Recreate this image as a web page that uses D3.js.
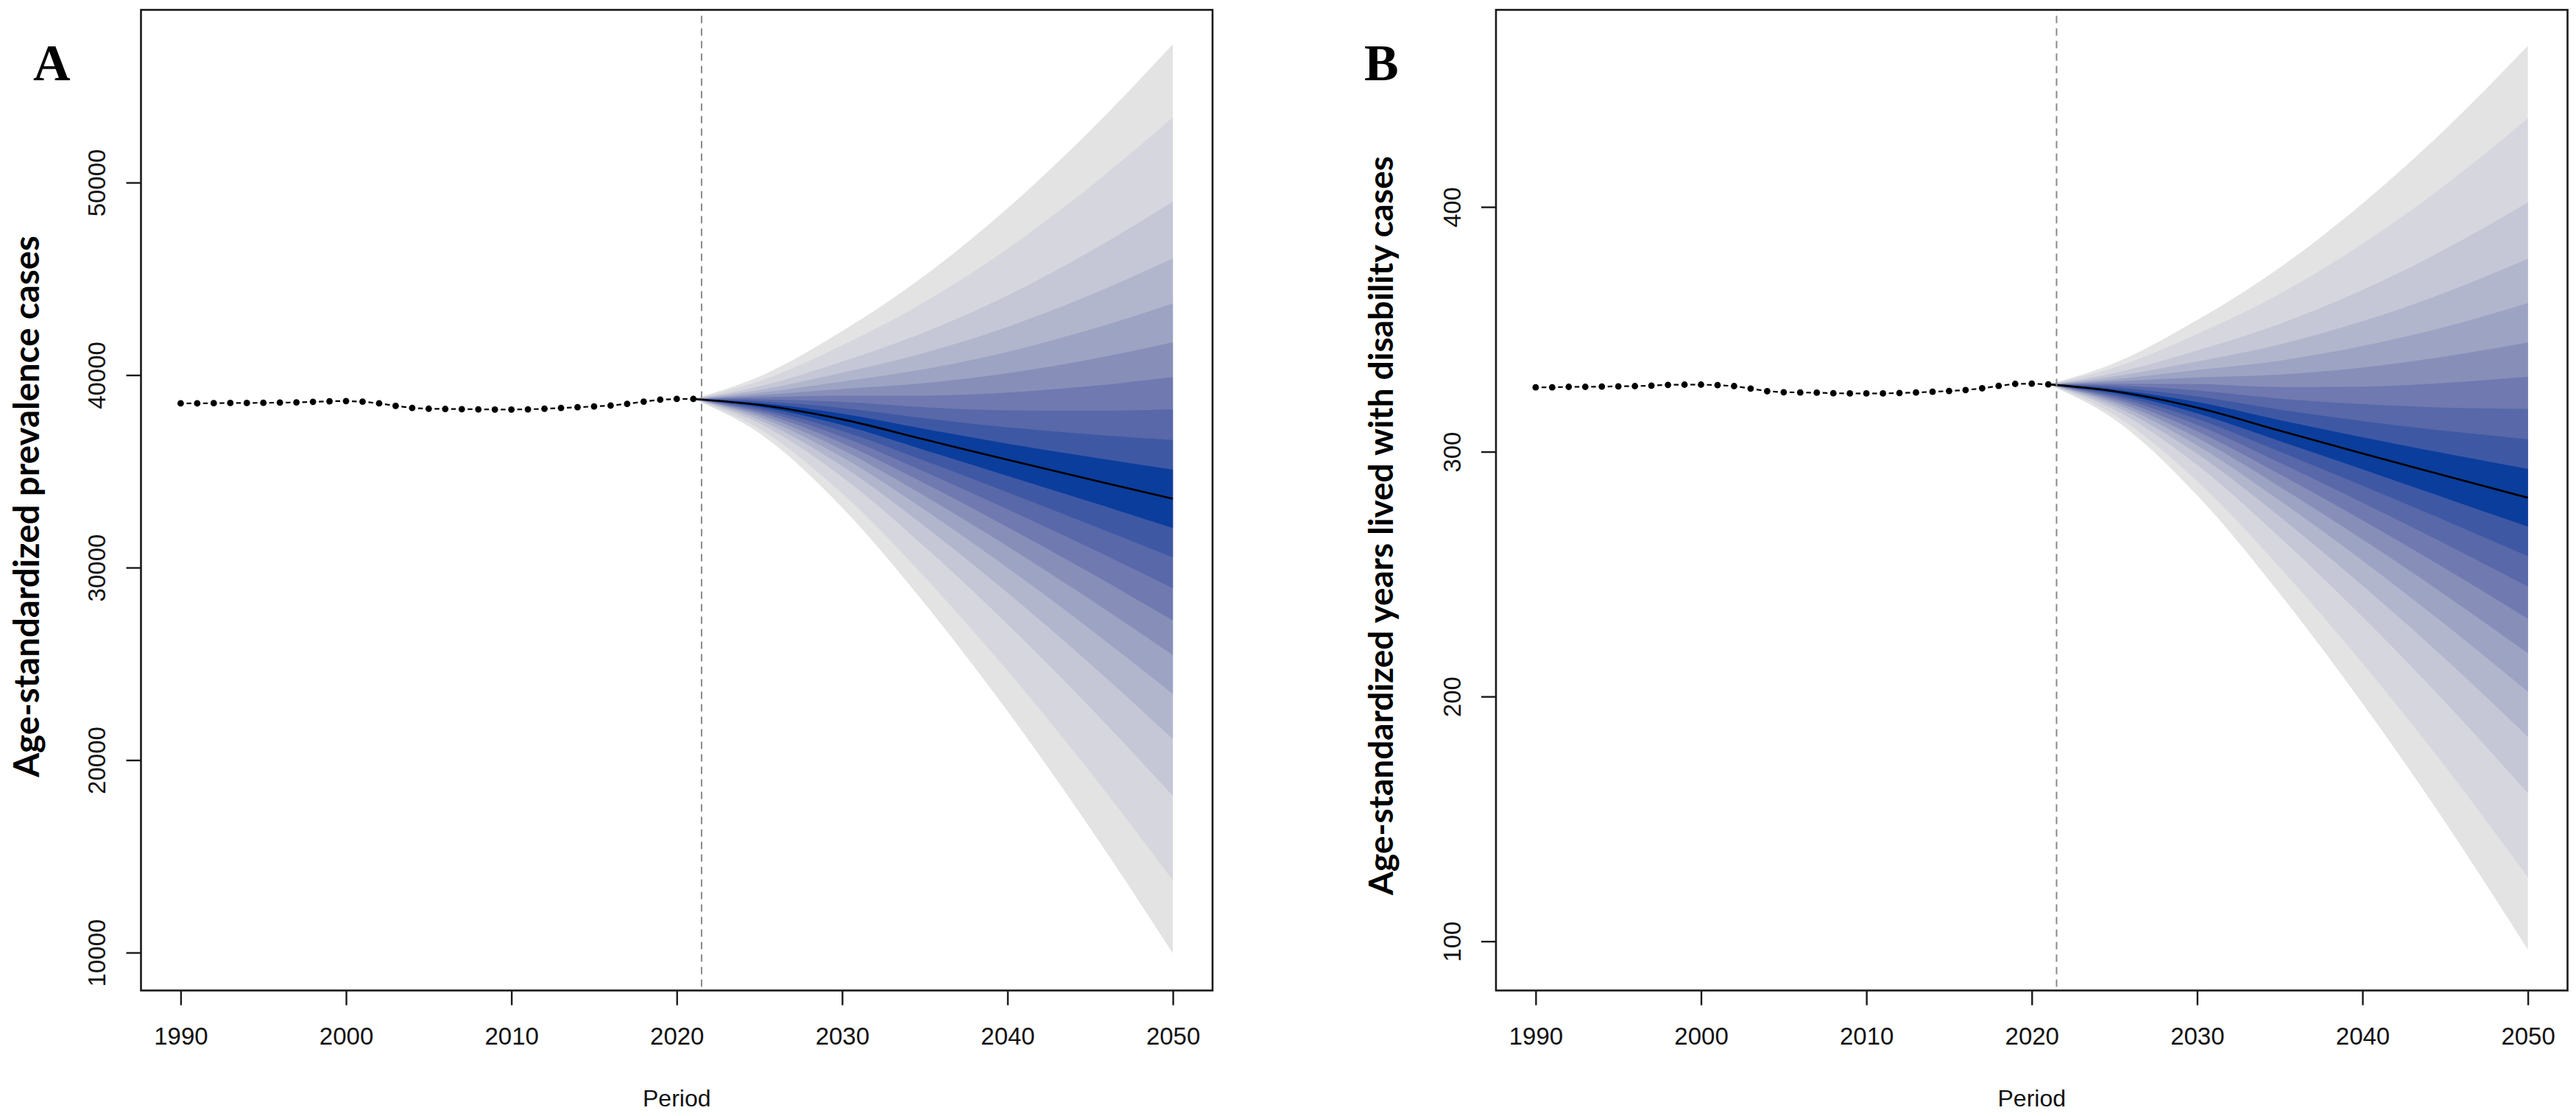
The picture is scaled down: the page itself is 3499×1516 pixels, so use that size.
<!DOCTYPE html>
<html><head><meta charset="utf-8">
<script src="https://cdn.jsdelivr.net/npm/d3@7/dist/d3.min.js"></script>
<style>html,body{margin:0;padding:0;background:#fff;} svg{display:block;}</style>
</head><body>
<svg id="chart" width="3499" height="1516"></svg>
<script>
// ---------- data ----------
const histYears = [1990,1991,1992,1993,1994,1995,1996,1997,1998,1999,2000,2001,2002,2003,2004,2005,
                   2006,2007,2008,2009,2010,2011,2012,2013,2014,2015,2016,2017,2018,2019,2020,2021];
const histA = [38530,38530,38540,38550,38550,38560,38570,38580,38610,38640,38650,38620,38530,38400,38290,38250,
               38240,38230,38220,38210,38210,38220,38250,38290,38330,38370,38420,38500,38620,38720,38760,38760];
const histB = [326.3,326.3,326.5,326.5,326.6,326.7,326.8,327.0,327.3,327.4,327.4,327.2,326.8,325.8,324.7,324.3,
               324.2,324.1,323.9,323.8,323.8,323.8,324.0,324.2,324.5,324.8,325.2,325.9,326.9,327.7,327.8,327.5];

const xTicks = [1990, 2000, 2010, 2020, 2030, 2040, 2050];
const yTicksA = [10000, 20000, 30000, 40000, 50000];
const yTicksB = [100, 200, 300, 400];
const forecastStart = 2021.5;

// projection quantiles (columns) per projection year (rows)
const quantiles = [0.025,0.05,0.1,0.15,0.2,0.25,0.3,0.35,0.4,0.45,0.5,0.55,0.6,0.65,0.7,0.75,0.8,0.85,0.9,0.95,0.975];
const fanYears = [2021, 2025, 2030, 2035, 2040, 2045, 2050];
const fanA = [
  [38760,38760,38760,38760,38760,38760,38760,38760,38760,38760,38760,38760,38760,38760,38760,38760,38760,38760,38760,38760,38760],
  [36976,37213,37486,37671,37817,37943,38056,38160,38260,38355,38450,38545,38640,38740,38844,38957,39083,39229,39414,39687,39924],
  [33118,33854,34704,35277,35732,36123,36474,36799,37108,37406,37700,37994,38292,38601,38926,39277,39668,40123,40696,41546,42282],
  [28124,29494,31075,32142,32989,33716,34369,34974,35548,36103,36650,37197,37752,38326,38931,39584,40311,41158,42225,43806,45176],
  [22539,24638,27059,28693,29992,31105,32105,33032,33912,34762,35600,36438,37288,38168,39095,40095,41208,42507,44141,46562,48661],
  [16466,19377,22735,25002,26802,28346,29733,31019,32239,33418,34580,35742,36921,38141,39427,40814,42358,44158,46425,49783,52694],
  [9957,13753,18132,21086,23434,25447,27256,28932,30523,32060,33575,35090,36627,38218,39894,41703,43716,46064,49018,53397,57193]
];
const fanB = [
  [327.5,327.5,327.5,327.5,327.5,327.5,327.5,327.5,327.5,327.5,327.5,327.5,327.5,327.5,327.5,327.5,327.5,327.5,327.5,327.5,327.5],
  [313.2,315.0,317.2,318.6,319.8,320.7,321.6,322.4,323.2,324.0,324.7,325.4,326.2,327.0,327.8,328.7,329.6,330.8,332.2,334.4,336.2],
  [282.2,288.0,294.6,299.1,302.6,305.7,308.4,311.0,313.4,315.7,318.0,320.3,322.6,325.0,327.6,330.3,333.4,336.9,341.4,348.1,353.8],
  [242.0,252.7,265.0,273.4,280.0,285.7,290.8,295.5,300.0,304.3,308.6,312.9,317.2,321.7,326.4,331.5,337.2,343.8,352.2,364.5,375.2],
  [197.2,213.6,232.5,245.3,255.5,264.2,272.0,279.2,286.1,292.8,299.3,305.9,312.5,319.4,326.6,334.4,343.2,353.3,366.1,385.0,401.4],
  [148.7,171.4,197.7,215.4,229.4,241.5,252.3,262.4,271.9,281.1,290.2,299.3,308.5,318.0,328.1,338.9,351.0,365.0,382.7,409.0,431.7],
  [96.6,126.2,160.5,183.6,201.9,217.7,231.8,244.9,257.3,269.4,281.2,293.0,305.1,317.5,330.6,344.6,360.7,378.8,401.9,436.2,465.8]
];
// outer (gray) -> inner (dark blue)
const fanColors = ["#e3e3e3","#d6d7de","#c5c7d6","#b2b6cd","#9da3c3","#878fb9","#7079b0","#5868a8","#3f58a4","#0b3d9c"];

// ---------- drawing ----------
const svg = d3.select("#chart");

function panel(o) {
  const x = d3.scaleLinear().domain([1987.6, 2052.4]).range([o.left, o.right]);
  const y = d3.scaleLinear().domain(o.yDomain).range([o.bottom, o.top]);
  const g = svg.append("g");

  // fan bands
  const rows = fanYears.map((yr, i) => ({yr, v: o.fan[i]}));
  for (let k = 0; k < 10; k++) {
    const area = d3.area()
      .x(d => x(d.yr))
      .y0(d => y(d.v[k]))
      .y1(d => y(d.v[20 - k]))
      .curve(d3.curveMonotoneX);
    g.append("path").datum(rows).attr("d", area).attr("fill", fanColors[k]).attr("stroke", "none");
  }
  // median projection
  const med = d3.line().x(d => x(d.yr)).y(d => y(d.v[10])).curve(d3.curveMonotoneX);
  g.append("path").datum(rows).attr("d", med).attr("fill", "none")
    .attr("stroke", "#000").attr("stroke-width", 2.6);

  // vertical dashed line
  g.append("line").attr("x1", x(forecastStart)).attr("x2", x(forecastStart))
    .attr("y1", o.top).attr("y2", o.bottom)
    .attr("stroke", "#8a8a8a").attr("stroke-width", 2).attr("stroke-dasharray", "10,7")
    .attr("stroke-dashoffset", -8);

  // historical observations: points with dashed connections
  const pts = histYears.map((yr, i) => [x(yr), y(o.hist[i])]);
  for (let i = 0; i < pts.length - 1; i++) {
    const [x1, y1] = pts[i], [x2, y2] = pts[i + 1];
    const dx = x2 - x1, dy = y2 - y1, L = Math.hypot(dx, dy), gap = 8;
    g.append("line")
      .attr("x1", x1 + dx * gap / L).attr("y1", y1 + dy * gap / L)
      .attr("x2", x2 - dx * gap / L).attr("y2", y2 - dy * gap / L)
      .attr("stroke", "#000").attr("stroke-width", 2.2);
  }
  g.selectAll("circle.pt").data(pts).enter().append("circle")
    .attr("cx", d => d[0]).attr("cy", d => d[1]).attr("r", 4.4).attr("fill", "#000");

  // box
  g.append("rect").attr("x", o.left).attr("y", o.top)
    .attr("width", o.right - o.left).attr("height", o.bottom - o.top)
    .attr("fill", "none").attr("stroke", "#1a1a1a").attr("stroke-width", 2.6);

  // x axis
  const xa = g.append("g").attr("transform", `translate(0,${o.bottom})`)
    .call(d3.axisBottom(x).tickValues(xTicks).tickSize(20).tickFormat(d3.format("d")));
  xa.select(".domain").remove();
  xa.selectAll(".tick line").attr("stroke", "#1a1a1a").attr("stroke-width", 2.4);
  xa.selectAll(".tick text").attr("y", 62).attr("dy", "0.35em")
    .attr("font-family", "'Liberation Sans', Arial, sans-serif").attr("font-size", 33).attr("fill", "#111");

  // y axis
  const ya = g.append("g").attr("transform", `translate(${o.left},0)`)
    .call(d3.axisLeft(y).tickValues(o.yTicks).tickSize(20).tickFormat(d3.format("d")));
  ya.select(".domain").remove();
  ya.selectAll(".tick line").attr("stroke", "#1a1a1a").attr("stroke-width", 2.4);
  ya.selectAll(".tick text").attr("x", null).attr("dy", "0.35em")
    .attr("transform", "translate(-60,0) rotate(-90)")
    .attr("text-anchor", "middle")
    .attr("font-family", "'Liberation Sans', Arial, sans-serif").attr("font-size", 33).attr("fill", "#111");

  // x title
  g.append("text").attr("x", (o.left + o.right) / 2).attr("y", 1492).attr("dy", "0.35em")
    .attr("text-anchor", "middle").attr("font-family", "'Liberation Sans', Arial, sans-serif")
    .attr("font-size", 32).attr("fill", "#111").text("Period");

  // y title (fit to measured length)
  const t = g.append("text").attr("transform", `translate(${o.ytX},${o.ytY}) rotate(-90)`)
    .attr("text-anchor", "middle").attr("dy", "0.35em")
    .attr("font-family", "Lato, 'Open Sans', sans-serif").attr("font-weight", 700)
    .attr("font-size", 36).attr("fill", "#000").text(o.ytitle);
  const len = t.node().getComputedTextLength();
  t.attr("font-size", 36 * o.ytLen / len);

  // panel letter
  g.append("text").attr("x", o.letterX).attr("y", 109)
    .attr("font-family", "'Liberation Serif', 'Times New Roman', serif").attr("font-weight", 700)
    .attr("font-size", 70).attr("fill", "#000").text(o.letter);
}

panel({left: 191.5, right: 1647, top: 13.4, bottom: 1345.5, yDomain: [8031, 58971],
       yTicks: yTicksA, hist: histA, fan: fanA, ytitle: "Age-standardized prevalence cases",
       ytX: 36, ytY: 688, ytLen: 736, letter: "A", letterX: 45});
panel({left: 2032, right: 3487.5, top: 13.4, bottom: 1345.5, yDomain: [79.9, 480.5],
       yTicks: yTicksB, hist: histB, fan: fanB, ytitle: "Age-standardized years lived with disability cases",
       ytX: 1876, ytY: 714, ytLen: 1004, letter: "B", letterX: 1853});
</script>
</body></html>
